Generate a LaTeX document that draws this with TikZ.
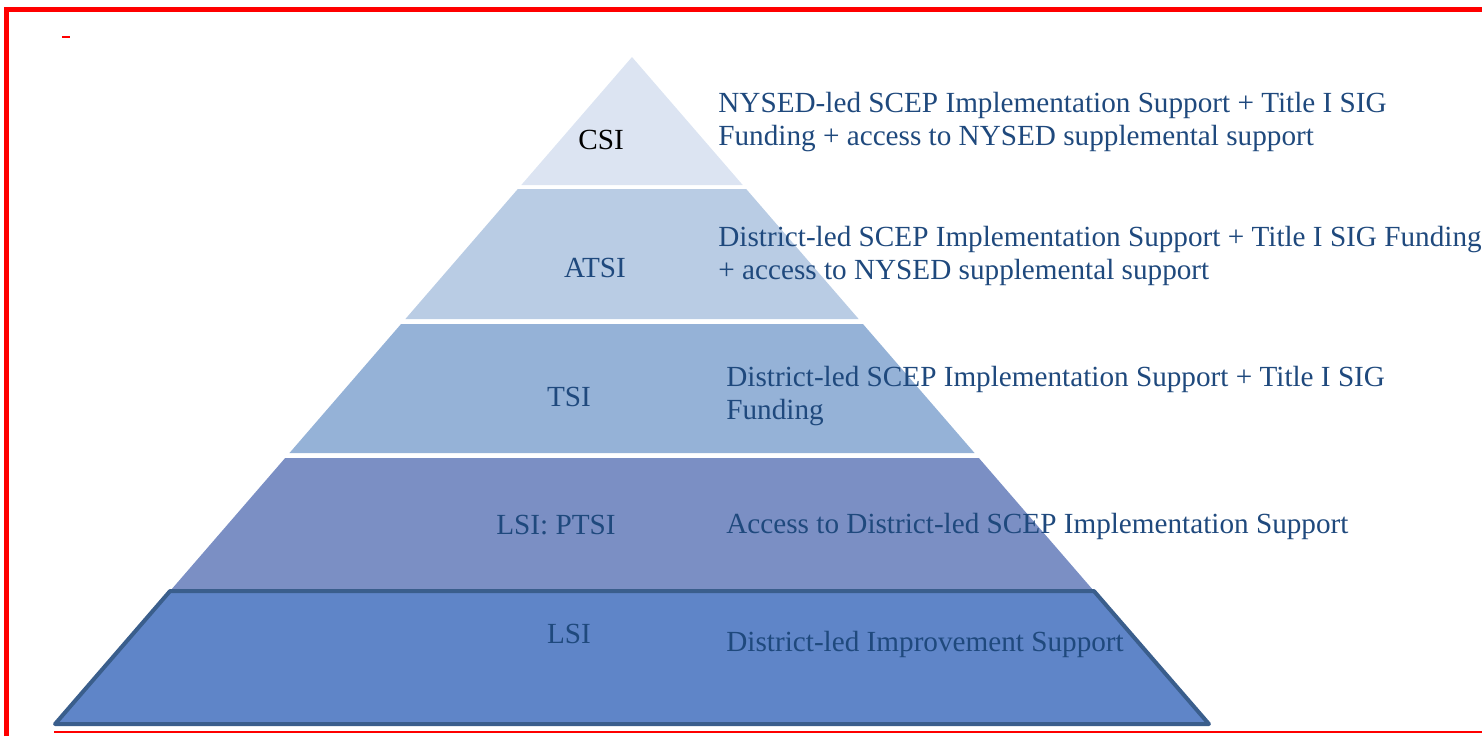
\documentclass[tikz,border=0pt]{standalone}
\usepackage{fontspec}
\setmainfont{Liberation Serif}

\definecolor{csiblue}{HTML}{DCE4F2}
\definecolor{atsiblue}{HTML}{B9CCE4}
\definecolor{tsiblue}{HTML}{95B2D7}
\definecolor{ptsiblue}{HTML}{7B8FC4}
\definecolor{lsiblue}{HTML}{5F85C8}
\definecolor{lsiedge}{HTML}{3A5E8C}
\definecolor{textblue}{HTML}{1F497D}

% edges of the pyramid: apex at (632,57), half width grows 0.865 per unit down
\newcommand{\lx}[1]{632-0.865*(#1-57)}
\newcommand{\rx}[1]{632+0.865*(#1-57)}

\begin{document}
\begin{tikzpicture}[x=0.5pt, y=-0.5pt,
    tier/.style={font=\fontsize{14.6}{16.6}\selectfont, text=textblue, inner sep=0pt},
    note/.style={tier, anchor=west, align=left}]
\useasboundingbox (0,0) rectangle (1482,736);

% frame
\draw[red, line width=2.5pt] (6,736) -- (6,9.5) -- (1482,9.5);
\draw[red, line width=1.2pt] (54,732) -- (1482,732);
\draw[red, line width=0.8pt] (62,37) -- (70,37);

% bands
\fill[csiblue] (632,57) -- ({\rx{185}},185) -- ({\lx{185}},185) -- cycle;
\fill[atsiblue] ({\lx{189}},189) -- ({\rx{189}},189) -- ({\rx{319}},319) -- ({\lx{319}},319) -- cycle;
\fill[tsiblue] ({\lx{324}},324) -- ({\rx{324}},324) -- ({\rx{453}},453) -- ({\lx{453}},453) -- cycle;
\fill[ptsiblue] ({\lx{458}},458) -- ({\rx{458}},458) -- ({\rx{592}},592) -- ({\lx{592}},592) -- cycle;
\filldraw[fill=lsiblue, draw=lsiedge, line width=2pt, line join=round]
    ({\lx{591}},591) -- ({\rx{591}},591) -- ({\rx{724}},724) -- ({\lx{724}},724) -- cycle;

% tier names
\node[tier, text=black] (csi) at (601,140) {CSI};
\node[tier] (atsi) at (595,268) {ATSI};
\node[tier] (tsi) at (569,397) {TSI};
\node[tier] (ptsi) at (556,525) {LSI: PTSI};
\node[tier] (lsi) at (569,634) {LSI};

% supports
\node[note] (csinote) at (718,122) {NYSED-led SCEP Implementation Support + Title I SIG\\Funding + access to NYSED supplemental support};
\node[note] (atsinote) at (718,256) {District-led SCEP Implementation Support + Title I SIG Funding\\+ access to NYSED supplemental support};
\node[note] (tsinote) at (726,396) {District-led SCEP Implementation Support + Title I SIG\\Funding};
\node[note] (ptsinote) at (726,526) {Access to District-led SCEP Implementation Support};
\node[note] (lsinote) at (726,644) {District-led Improvement Support};
\end{tikzpicture}
\end{document}
